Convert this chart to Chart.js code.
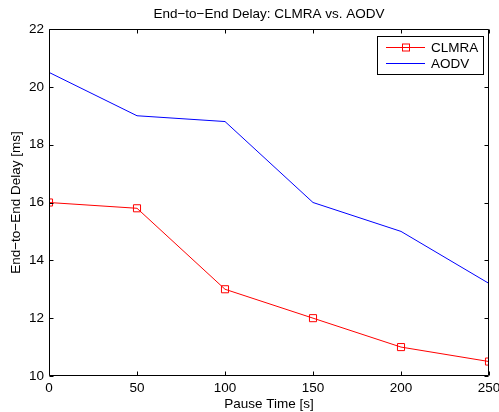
<!DOCTYPE html>
<html><head><meta charset="utf-8">
<script src="https://cdn.jsdelivr.net/npm/chart.js@4"></script>
<style>html,body{margin:0;padding:0;background:#fff}#wrap{width:499px;height:412px}</style>
</head><body><div id="wrap"><canvas id="c" width="499" height="412"></canvas></div>
<script>
const pauseTimes = [0, 50, 100, 150, 200, 250];
const clmraDelay = [16.0, 15.8, 13.0, 12.0, 11.0, 10.5];
const aodvDelay = [20.5, 19.0, 18.8, 16.0, 15.0, 13.2];
const xTicks = [0, 50, 100, 150, 200, 250];
const yTicks = [10, 12, 14, 16, 18, 20, 22];
const titleText = 'End\u2212to\u2212End Delay: CLMRA vs. AODV';
const xLabel = 'Pause Time [s]';
const yLabel = 'End\u2212to\u2212End Delay [ms]';
const FONT = '"Liberation Sans", Arial, Helvetica, sans-serif';

const toPts = (xs, ys) => xs.map((x, i) => ({x, y: ys[i]}));

const framePlugin = {
  id: 'frame',
  afterDatasetsDraw(chart) {
    const {ctx, chartArea: a, scales} = chart;
    ctx.save();
    ctx.strokeStyle = '#000';
    ctx.lineWidth = 1;
    const L = Math.round(a.left) + 0.5, R = Math.round(a.right) - 0.5;
    const T = Math.round(a.top) + 0.5, B = Math.round(a.bottom) - 0.5;
    ctx.beginPath();
    ctx.rect(L, T, R - L, B - T);
    ctx.stroke();
    const tl = 4;
    ctx.beginPath();
    xTicks.forEach(v => {
      const px = Math.round(scales.x.getPixelForValue(v)) + 0.5;
      ctx.moveTo(px, B); ctx.lineTo(px, B - tl);
      ctx.moveTo(px, T); ctx.lineTo(px, T + tl);
    });
    yTicks.forEach(v => {
      const py = Math.round(scales.y.getPixelForValue(v)) + 0.5;
      ctx.moveTo(L, py); ctx.lineTo(L + tl, py);
      ctx.moveTo(R, py); ctx.lineTo(R - tl, py);
    });
    ctx.stroke();
    // title
    ctx.fillStyle = '#000';
    ctx.font = '13.5px ' + FONT;
    ctx.textAlign = 'center';
    ctx.textBaseline = 'middle';
    ctx.fillText(titleText, (a.left + a.right) / 2, 14);
    // axis labels
    ctx.font = '13.5px ' + FONT;
    ctx.fillText(xLabel, (a.left + a.right) / 2, 404);
    ctx.save();
    ctx.translate(16, (a.top + a.bottom) / 2);
    ctx.rotate(-Math.PI / 2);
    ctx.fillText(yLabel, 0, 0);
    ctx.restore();
    // legend
    const bx = 377.5, by = 36.5, bw = 106, bh = 38;
    ctx.fillStyle = '#fff';
    ctx.fillRect(bx, by, bw, bh);
    ctx.strokeStyle = '#000';
    ctx.strokeRect(bx, by, bw, bh);
    const rows = [47, 63];
    chart.data.datasets.forEach((ds, i) => {
      const y = rows[i] + 0.5;
      ctx.strokeStyle = ds.borderColor;
      ctx.lineWidth = 1;
      ctx.beginPath(); ctx.moveTo(386, y); ctx.lineTo(425, y); ctx.stroke();
      if (ds.pointRadius > 0) {
        ctx.strokeRect(402.5, y - 3.5, 7, 7);
      }
      ctx.fillStyle = '#000';
      ctx.font = '13.5px ' + FONT;
      ctx.textAlign = 'left';
      ctx.fillText(ds.label, 431, rows[i] + 1);
    });
    ctx.restore();
  }
};

const zeroPad = s => { s.paddingLeft = 0; s.paddingRight = 0; s.paddingTop = 0; s.paddingBottom = 0; };

new Chart(document.getElementById('c'), {
  type: 'line',
  data: {
    datasets: [
      { label: 'CLMRA', data: toPts(pauseTimes, clmraDelay), borderColor: '#ff0000', borderWidth: 1,
        pointStyle: 'rect', pointRadius: 5, pointBorderWidth: 1, pointBackgroundColor: 'rgba(0,0,0,0)',
        pointBorderColor: '#ff0000', tension: 0 },
      { label: 'AODV', data: toPts(pauseTimes, aodvDelay), borderColor: '#0000ff', borderWidth: 1,
        pointRadius: 0, tension: 0 }
    ]
  },
  options: {
    responsive: false,
    animation: false,
    events: [],
    layout: { autoPadding: false, padding: { top: 29, right: 10, left: 0, bottom: 0 } },
    plugins: { legend: { display: false }, tooltip: { enabled: false }, title: { display: false } },
    scales: {
      x: {
        type: 'linear', min: 0, max: 250,
        afterFit: s => { s.height = 36; zeroPad(s); },
        afterBuildTicks: s => { s.ticks = xTicks.map(v => ({value: v})); },
        grid: { display: false, drawTicks: false }, border: { display: false },
        ticks: { color: '#000', font: { size: 13.5, family: FONT }, padding: 4, maxRotation: 0, autoSkip: false, align: 'center' }
      },
      y: {
        type: 'linear', min: 10, max: 22,
        afterFit: s => { s.width = 49; zeroPad(s); },
        afterBuildTicks: s => { s.ticks = yTicks.map(v => ({value: v})); },
        grid: { display: false, drawTicks: false }, border: { display: false },
        ticks: { color: '#000', font: { size: 13.5, family: FONT }, padding: 5, autoSkip: false }
      }
    }
  },
  plugins: [framePlugin]
});
</script></body></html>
